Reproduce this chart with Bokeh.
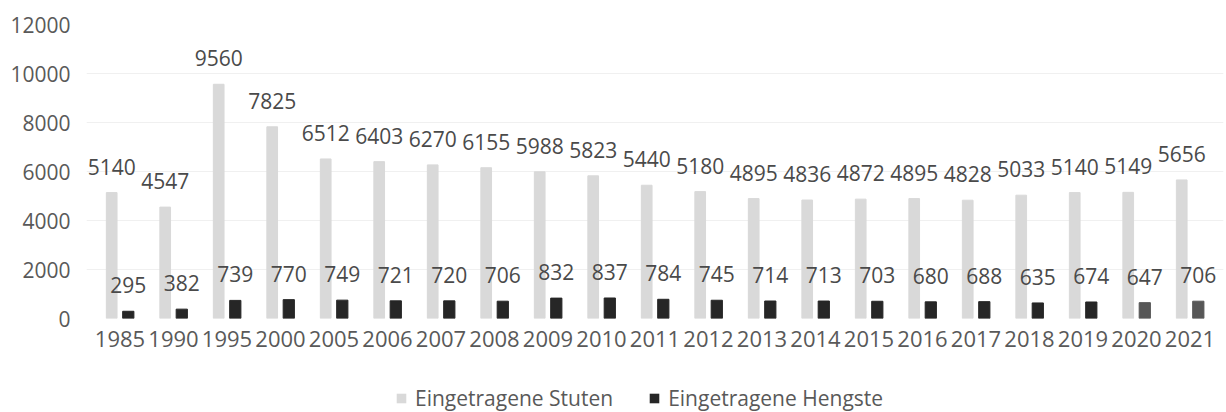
from bokeh.plotting import figure
from bokeh.layouts import column
from bokeh.models import (ColumnDataSource, FixedTicker, NumeralTickFormatter,
                          Range1d, FactorRange, LabelSet, Legend, LegendItem)
from bokeh.core.properties import value
from bokeh.transform import dodge
from bokeh.embed import file_html
from bokeh.resources import INLINE

# ---- data ----
years = ["1985", "1990", "1995", "2000", "2005", "2006", "2007", "2008", "2009",
         "2010", "2011", "2012", "2013", "2014", "2015", "2016", "2017", "2018",
         "2019", "2020", "2021"]
stuten = [5140, 4547, 9560, 7825, 6512, 6403, 6270, 6155, 5988, 5823, 5440,
          5180, 4895, 4836, 4872, 4895, 4828, 5033, 5140, 5149, 5656]
hengste = [295, 382, 739, 770, 749, 721, 720, 706, 832, 837, 784, 745, 714,
           713, 703, 680, 688, 635, 674, 647, 706]
y_ticks = [0, 2000, 4000, 6000, 8000, 10000, 12000]
series_names = ["Eingetragene Stuten", "Eingetragene Hengste"]

# ---- styles ----
STUTEN_COLOR = "#d9d9d9"
HENGSTE_COLOR = "#262626"
hengste_colors = [HENGSTE_COLOR] * 19 + ["#575757"] * 2
FONT = "Open Sans"
TEXT = "#595959"

source = ColumnDataSource(dict(
    year=years, stuten=stuten, hengste=hengste, hcol=hengste_colors,
    slab=[str(v) for v in stuten], hlab=[str(v) for v in hengste],
))

p = figure(x_range=FactorRange(*years, range_padding=0.126,
                               range_padding_units="absolute"),
           y_range=Range1d(0, 12000),
           width=1226, height=370, output_backend="svg", toolbar_location=None,
           min_border_left=86, min_border_right=3, min_border_top=24,
           min_border_bottom=52)

p.vbar(x=dodge("year", -0.155, range=p.x_range), top="stuten", width=0.2,
       source=source, fill_color=STUTEN_COLOR, line_color=STUTEN_COLOR)
p.vbar(x=dodge("year", 0.155, range=p.x_range), top="hengste", width=0.21,
       source=source, fill_color="hcol", line_color="hcol")

for col, lab, off in (("stuten", "slab", -0.155), ("hengste", "hlab", 0.155)):
    p.add_layout(LabelSet(x=dodge("year", off, range=p.x_range), y=col, text=lab,
                          source=source, text_align="center",
                          text_baseline="alphabetic", y_offset=18,
                          text_font=value(FONT), text_font_size="21px",
                          text_color="#4a4a4a"))

for ax in (p.xaxis, p.yaxis):
    ax.axis_line_color = None
    ax.major_tick_line_color = None
    ax.minor_tick_line_color = None
    ax.major_tick_out = 0
    ax.major_tick_in = 0
    ax.minor_tick_out = 0
    ax.minor_tick_in = 0
    ax.major_label_text_font = FONT
    ax.major_label_text_color = TEXT
p.xaxis.major_label_text_font_size = "22px"
p.yaxis.major_label_text_font_size = "21px"
p.xaxis.major_label_standoff = 12
p.yaxis.major_label_standoff = 16
p.yaxis.ticker = FixedTicker(ticks=y_ticks)
p.yaxis.formatter = NumeralTickFormatter(format="0")

p.xgrid.grid_line_color = None
p.ygrid.grid_line_color = "#f0f0f0"
p.outline_line_color = None

# ---- legend strip below the chart ----
q = figure(width=1226, height=42, output_backend="svg", toolbar_location=None,
           x_range=Range1d(0, 1), y_range=Range1d(0, 1),
           x_axis_type=None, y_axis_type=None,
           min_border_left=0, min_border_right=0, min_border_top=0,
           min_border_bottom=0)
q.xgrid.grid_line_color = None
q.ygrid.grid_line_color = None
q.outline_line_color = None
# legend-only swatches (zero-height, so nothing is drawn in the strip)
swatch = ColumnDataSource(dict(x=[0.5], top=[0]))
g1 = q.vbar(x="x", top="top", width=0.01, source=swatch,
            fill_color=STUTEN_COLOR, line_color=None)
g2 = q.vbar(x="x", top="top", width=0.01, source=swatch,
            fill_color=HENGSTE_COLOR, line_color=None)

lg = Legend(items=[LegendItem(label=series_names[0], renderers=[g1]),
                   LegendItem(label=series_names[1], renderers=[g2])],
            location=(309, 0), orientation="horizontal")
lg.border_line_color = None
lg.background_fill_alpha = 0
lg.padding = 0
lg.margin = 0
lg.spacing = 35
lg.glyph_width = 12
lg.glyph_height = 12
lg.label_standoff = 8
lg.label_text_font = FONT
lg.label_text_font_size = "21px"
lg.label_text_color = TEXT
q.add_layout(lg, "center")

layout = column(p, q, spacing=0)
open("out.html", "w").write(file_html(layout, INLINE))
